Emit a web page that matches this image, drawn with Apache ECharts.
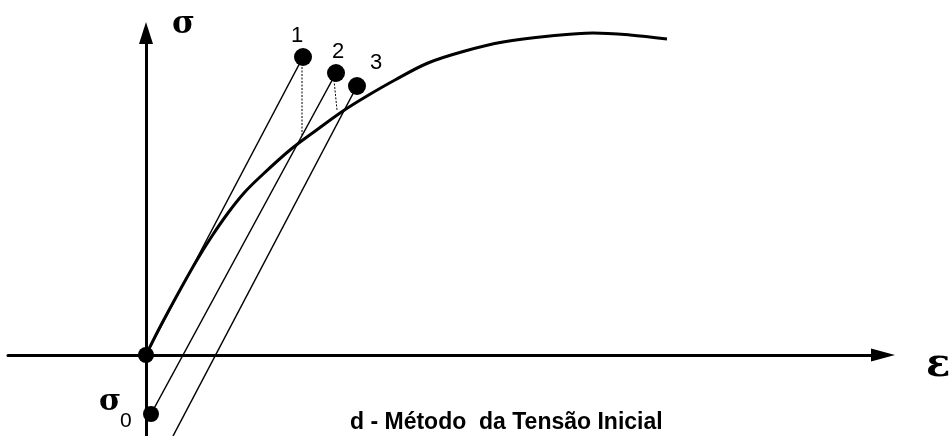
<!DOCTYPE html>
<html>
<head>
<meta charset="utf-8">
<script src="https://cdn.jsdelivr.net/npm/echarts@6/dist/echarts.min.js"></script>
<style>
html,body{margin:0;padding:0;background:#fff;}
#c{width:951px;height:436px;}
</style>
</head>
<body>
<div id="c"></div>
<script>
// stress-strain curve (arbitrary units, origin at the axes' crossing)
const curveEps = [0, 0.14, 0.34, 0.51, 0.66, 0.82, 0.98, 1.14, 1.44, 1.72, 1.97, 2.21, 2.49, 2.82, 3.19, 3.57, 4.04, 4.47, 4.84, 5.21];
const curveSig = [0, 0.28, 0.65, 0.95, 1.19, 1.42, 1.62, 1.78, 2.05, 2.26, 2.44, 2.59, 2.75, 2.92, 3.04, 3.13, 3.19, 3.22, 3.20, 3.16];
// iteration points 1, 2, 3
const iterLabels = ['1', '2', '3'];
const iterEps = [1.57, 1.90, 2.11];
const iterSig = [2.98, 2.82, 2.69];
// starting points of the elastic lines: origin, sigma0, and a lower one (off picture)
const startEps = [0, 0.05, 0.27];
const startSig = [0, -0.59, -0.81];
// dotted drops from points 1 and 2 to the curve
const dropTopEps = [1.56, 1.88];
const dropTopSig = [2.88, 2.75];
const dropBotEps = [1.56, 1.91];
const dropBotSig = [2.20, 2.45];

const series = [];
series.push({
  type: 'line', data: curveEps.map((e, i) => [e, curveSig[i]]),
  smooth: 0.35, showSymbol: false, clip: false,
  lineStyle: { color: '#000', width: 3 }, z: 3
});
for (let i = 0; i < 3; i++) {
  series.push({
    type: 'line', data: [[startEps[i], startSig[i]], [iterEps[i], iterSig[i]]],
    showSymbol: false, clip: true,
    lineStyle: { color: '#000', width: 1.5 }, z: 2
  });
}
for (let i = 0; i < 2; i++) {
  series.push({
    type: 'line', data: [[dropTopEps[i], dropTopSig[i]], [dropBotEps[i], dropBotSig[i]]],
    showSymbol: false,
    lineStyle: { color: '#000', width: 1, type: [2, 1.5] }, z: 2
  });
}
series.push({
  type: 'scatter', symbolSize: 18, itemStyle: { color: '#000', opacity: 1 }, z: 5,
  data: iterEps.map((e, i) => ({ value: [e, iterSig[i]], label: { show: true, formatter: iterLabels[i], offset: [[-6, 2], [2, 2], [19, 0]][i] } })),
  label: { position: 'top', distance: 3, color: '#000', fontSize: 22, fontFamily: 'Liberation Sans, Arial, sans-serif' }
});
series.push({
  type: 'scatter', symbolSize: 16, itemStyle: { color: '#000', opacity: 1 }, z: 5,
  data: [[startEps[0], startSig[0]], [startEps[1], startSig[1]]]
});

const chart = echarts.init(document.getElementById('c'));
chart.setOption({
  backgroundColor: '#fff',
  animation: false,
  grid: { left: 8, right: 68, top: 33, bottom: 0, containLabel: false },
  xAxis: {
    type: 'value', min: -1.38, max: 7.37,
    axisLine: { onZero: true, lineStyle: { color: '#000', width: 3 }, symbol: ['none', 'triangle'], symbolSize: [13, 24] },
    axisTick: { show: false }, axisLabel: { show: false }, splitLine: { show: false }
  },
  yAxis: {
    type: 'value', min: -0.81, max: 3.22,
    axisLine: { onZero: true, lineStyle: { color: '#000', width: 3 }, symbol: ['none', 'triangle'], symbolSize: [14, 22] },
    axisTick: { show: false }, axisLabel: { show: false }, splitLine: { show: false }
  },
  series: series,
  graphic: [
    { type: 'text', left: 172, top: 9, style: { text: 'σ', font: 'bold 31px "DejaVu Serif", serif', fill: '#000' } },
    { type: 'text', left: 926, top: 346, style: { text: 'ε', font: 'bold 40px "DejaVu Serif", serif', fill: '#000' } },
    { type: 'text', left: 99, top: 387, style: { text: 'σ', font: 'bold 30px "DejaVu Serif", serif', fill: '#000' } },
    { type: 'text', left: 120, top: 411, style: { text: '0', font: '21px "Liberation Sans", Arial, sans-serif', fill: '#000' } },
    { type: 'text', left: 350, top: 411, style: { text: 'd - Método  da Tensão Inicial', font: 'bold 23px "Liberation Sans", Arial, sans-serif', fill: '#000' } }
  ]
});
</script>
</body>
</html>
